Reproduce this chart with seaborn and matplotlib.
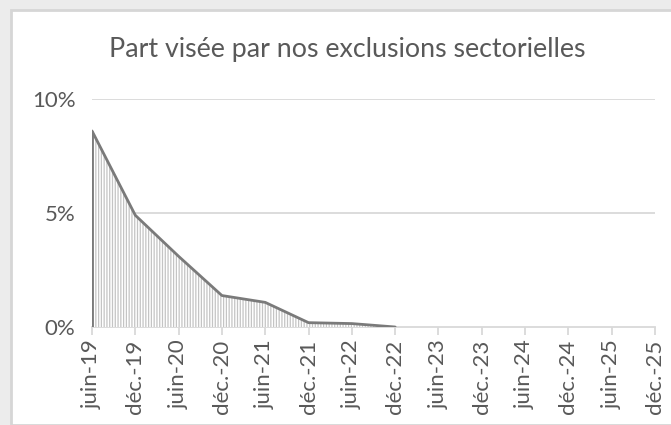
import numpy as np
import pandas as pd
import matplotlib
matplotlib.use("Agg")
import matplotlib.pyplot as plt
from matplotlib.patches import Rectangle
import seaborn as sns

# ---- data ----
categories = ["juin-19", "déc.-19", "juin-20", "déc.-20", "juin-21", "déc.-21",
              "juin-22", "déc.-22", "juin-23", "déc.-23", "juin-24", "déc.-24",
              "juin-25", "déc.-25"]
values = [0.086, 0.049, 0.031, 0.0138, 0.0108, 0.0019, 0.0015, 0.0]
y_ticks = [0.0, 0.05, 0.10]
y_tick_labels = ["0%", "5%", "10%"]
title = "Part visée par nos exclusions sectorielles"

sns.set_theme(style="white")
plt.rcParams["font.family"] = ["Lato", "DejaVu Sans"]
plt.rcParams["hatch.linewidth"] = 0.9

txt = "#595959"
grid_c = "#d9d9d9"
line_c = "#7a7a7a"
hatch_c = "#c4c4c4"

W, H = 671, 425
fig = plt.figure(figsize=(W / 100, H / 100), dpi=100)
fig.patch.set_facecolor("#ececec")
fig.patches.append(Rectangle((11 / W, 0), 1, (H - 10) / H, transform=fig.transFigure,
                             facecolor="white", edgecolor="#d6d6d6", linewidth=2, zorder=-10))

ax = fig.add_axes([92 / W, (H - 327) / H, (655 - 92) / W, (327 - 99) / H])
ax.set_facecolor("none")

pos = np.arange(len(values))
df = pd.DataFrame({"pos": pos, "val": values})

# grid lines
for t in y_ticks[1:]:
    ax.axhline(t, color=grid_c, linewidth=1.3, zorder=0)

# hatched area
ax.fill_between(df["pos"], 0, df["val"], facecolor="white", edgecolor=hatch_c,
                hatch="||||||", linewidth=0, zorder=2)
# outline
sns.lineplot(data=df, x="pos", y="val", ax=ax, color=line_c, linewidth=2, zorder=3)
ax.vlines(df["pos"].iloc[0], 0, df["val"].iloc[0], color=line_c, linewidth=2, zorder=3)

ax.set_xlim(0, len(categories) - 1)
ax.set_ylim(0, 0.10)
ax.set_xticks(np.arange(len(categories)))
ax.set_xticklabels(categories, rotation=90, color=txt, fontsize=16)
ax.set_yticks(y_ticks)
ax.set_yticklabels(y_tick_labels, color=txt, fontsize=16)
ax.set_xlabel("")
ax.set_ylabel("")

for s in ["top", "right", "left"]:
    ax.spines[s].set_visible(False)
ax.spines["bottom"].set_color(grid_c)
ax.spines["bottom"].set_linewidth(1.3)
ax.spines["bottom"].set_zorder(1)
ax.tick_params(axis="x", bottom=True, length=6, width=1.3, color=grid_c, pad=3)
ax.tick_params(axis="y", left=False, length=0, pad=12)

fig.text(347 / W, (H - 50) / H, title, ha="center", va="center", color=txt, fontsize=19.3)

fig.savefig("out.png", dpi=100)
